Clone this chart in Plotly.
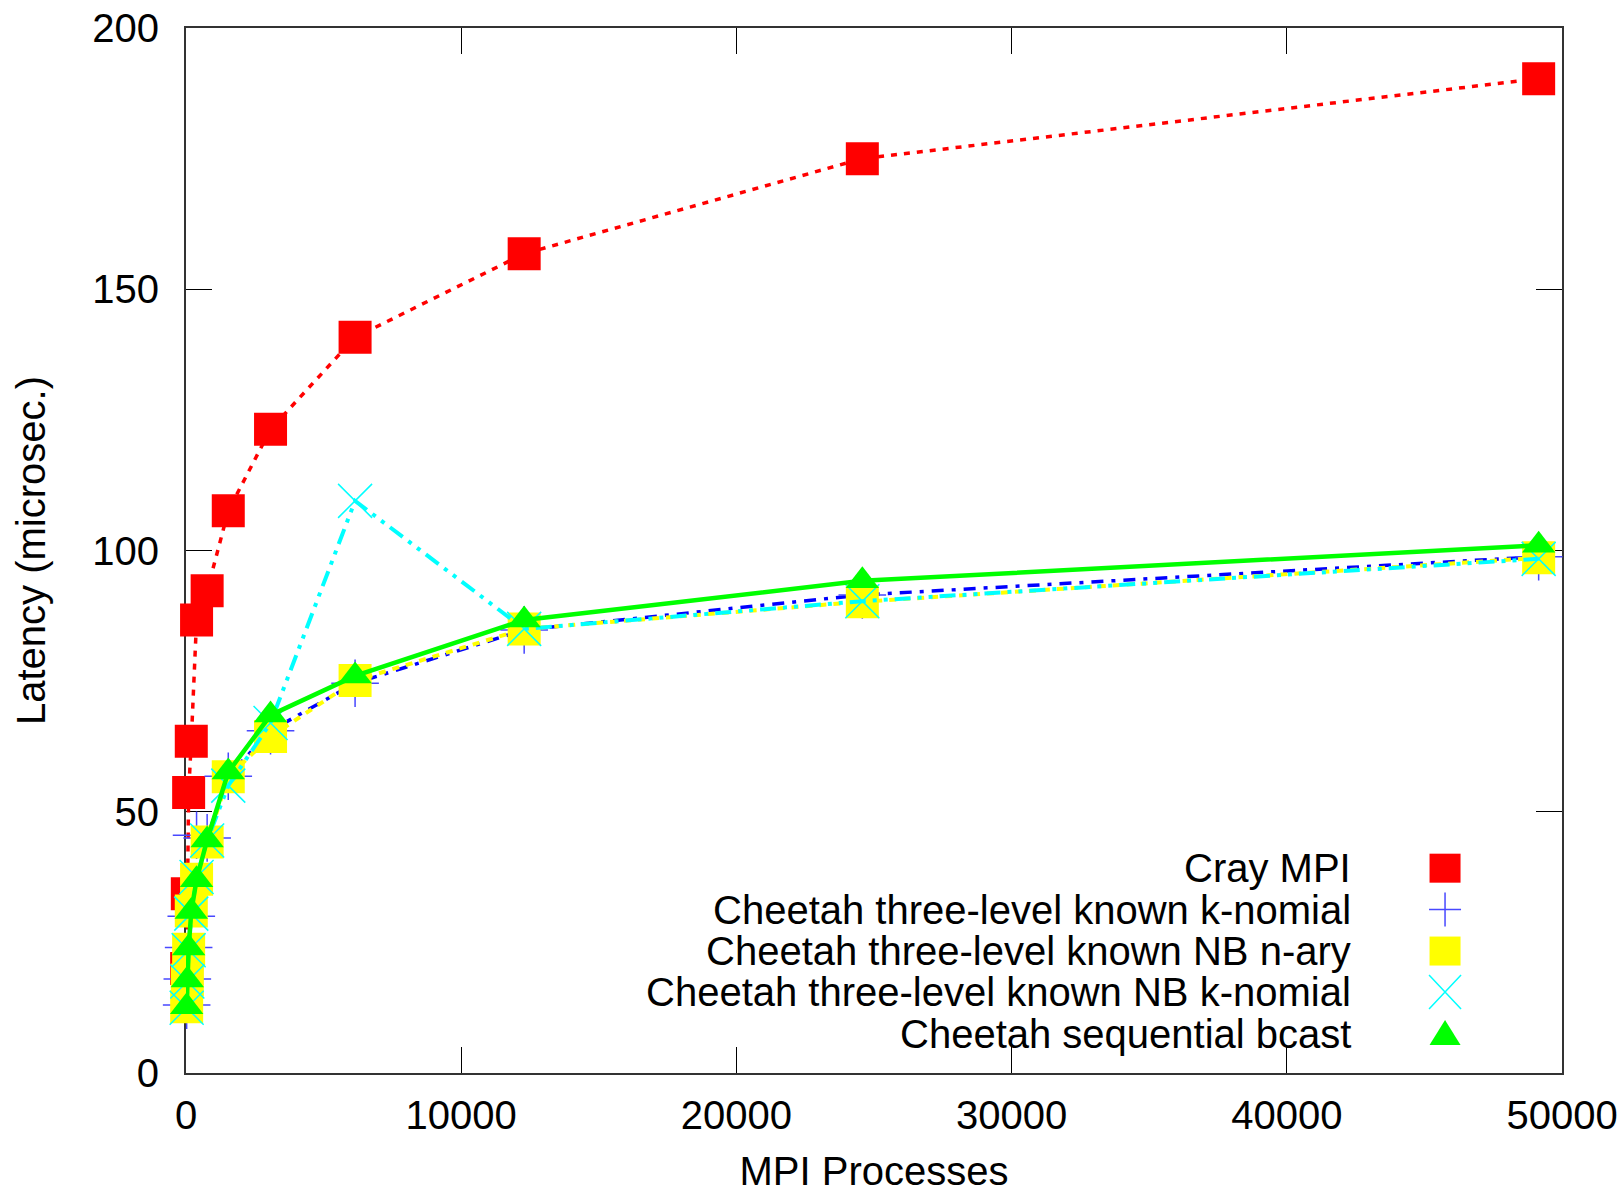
import plotly.graph_objects as go

# ---------------- data ----------------
procs = [24, 48, 96, 192, 384, 768, 1536, 3072, 6144, 12288, 24576, 49152]

cray_mpi = [20.0, 34.3, 53.7, 63.5, 86.7, 92.3, 107.6, 123.2, 140.8, 156.8, 175.0, 190.3]
knomial = [13.0, 18.0, 24.0, 30.0, 45.5, 45.0, 56.8, 65.5, 74.6, 84.8, 91.5, 98.8]
nb_nary = [12.7, 17.8, 23.7, 31.0, 37.1, 44.2, 56.7, 64.4, 75.1, 85.0, 90.2, 98.6]
nb_knomial = [12.5, 17.5, 23.5, 30.5, 37.5, 44.5, 55.0, 67.0, 109.5, 85.0, 90.3, 98.4]
seq_bcast = [12.7, 17.8, 23.9, 30.9, 37.0, 44.6, 57.6, 68.5, 76.0, 86.7, 94.2, 101.0]

series_names = [
    "Cray MPI",
    "Cheetah three-level known k-nomial",
    "Cheetah three-level known NB n-ary",
    "Cheetah three-level known NB k-nomial",
    "Cheetah sequential bcast",
]

x_ticks = [0, 10000, 20000, 30000, 40000, 50000]
y_ticks = [0, 50, 100, 150, 200]

FONT = "Liberation Sans, Arial, Helvetica, sans-serif"
FS = 40

fig = go.Figure()

styles = [
    dict(y=cray_mpi, color="#ff0000", lw=3.5, dash="6px,7px",
         marker=dict(symbol="square", size=33, color="#ff0000")),
    dict(y=knomial, color="#0000ff", lw=3.5, dash="12px,8px,4px,8px",
         marker=dict(symbol="cross-thin", size=34, color="#4848ff",
                     line=dict(color="#4848ff", width=1.5))),
    dict(y=nb_nary, color="#ffff00", lw=4, dash="7px,7px",
         marker=dict(symbol="square", size=33, color="#ffff00")),
    dict(y=nb_knomial, color="#00ffff", lw=4, dash="16px,7px,4px,7px,4px,7px",
         marker=dict(symbol="x-thin", size=34, color="#00ffff",
                     line=dict(color="#00ffff", width=1.5))),
    dict(y=seq_bcast, color="#00ff00", lw=4.5, dash="solid",
         marker=dict(symbol="triangle-up", size=29, color="#00ff00")),
]

for name, st in zip(series_names, styles):
    fig.add_trace(go.Scatter(
        x=procs, y=st["y"], name=name, mode="lines+markers",
        line=dict(color=st["color"], width=st["lw"], dash=st["dash"]),
        marker=st["marker"], cliponaxis=False, showlegend=False,
    ))

# ---------------- custom legend (text right, symbol on the right) ----------------
text_x = 0.848
sym_x = 0.915
row_y = [0.196, 0.1564, 0.1167, 0.0775, 0.0373]

for name, yy in zip(series_names, row_y):
    fig.add_annotation(x=text_x, y=yy, xref="paper", yref="paper", text=name,
                       showarrow=False, xanchor="right", yanchor="middle",
                       font=dict(family=FONT, size=FS, color="black"))

shapes = []
shapes.append(dict(type="rect", xref="paper", yref="paper", xsizemode="pixel", ysizemode="pixel",
                   xanchor=sym_x, yanchor=row_y[0], x0=-15.5, x1=15.5, y0=-14.5, y1=14.5,
                   fillcolor="#ff0000", line=dict(width=0)))
shapes.append(dict(type="path", xref="paper", yref="paper", xsizemode="pixel", ysizemode="pixel",
                   xanchor=sym_x, yanchor=row_y[1],
                   path="M-16,0 L16,0 M0,-17 L0,17", line=dict(color="#4848ff", width=1.5)))
shapes.append(dict(type="rect", xref="paper", yref="paper", xsizemode="pixel", ysizemode="pixel",
                   xanchor=sym_x, yanchor=row_y[2], x0=-15.5, x1=15.5, y0=-14.5, y1=14.5,
                   fillcolor="#ffff00", line=dict(width=0)))
shapes.append(dict(type="path", xref="paper", yref="paper", xsizemode="pixel", ysizemode="pixel",
                   xanchor=sym_x, yanchor=row_y[3],
                   path="M-16,-17 L16,17 M-16,17 L16,-17", line=dict(color="#00ffff", width=1.5)))
shapes.append(dict(type="path", xref="paper", yref="paper", xsizemode="pixel", ysizemode="pixel",
                   xanchor=sym_x, yanchor=row_y[4],
                   path="M-15.5,-11 L15.5,-11 L0,14 Z", fillcolor="#00ff00", line=dict(width=0)))

fig.update_layout(
    width=1622, height=1193,
    margin=dict(l=185.5, r=60, t=28, b=120, autoexpand=False),
    paper_bgcolor="white", plot_bgcolor="white",
    font=dict(family=FONT, size=FS, color="black"),
    shapes=shapes,
    xaxis=dict(
        range=[0, 50000], tickvals=x_ticks, ticktext=[str(v) for v in x_ticks],
        showgrid=False, zeroline=False, showline=True, linecolor="#333333", linewidth=2,
        mirror="allticks", ticks="inside", ticklen=26, tickwidth=1.3, tickcolor="black",
        ticklabelstandoff=6, ticklabeloverflow="allow", layer="below traces", automargin=False,
        title=dict(text="MPI Processes", font=dict(family=FONT, size=FS), standoff=46),
    ),
    yaxis=dict(
        range=[0, 200], tickvals=y_ticks, ticktext=[str(v) for v in y_ticks],
        showgrid=False, zeroline=False, showline=True, linecolor="#333333", linewidth=2,
        mirror="allticks", ticks="inside", ticklen=26, tickwidth=1.3, tickcolor="black",
        ticklabelstandoff=17, ticklabeloverflow="allow", layer="below traces", automargin=False,
        title=dict(text="Latency (microsec.)", font=dict(family=FONT, size=FS), standoff=34),
    ),
)

fig.write_html("out.html", config={"displayModeBar": False},
               post_script="document.body.style.margin='0';")
